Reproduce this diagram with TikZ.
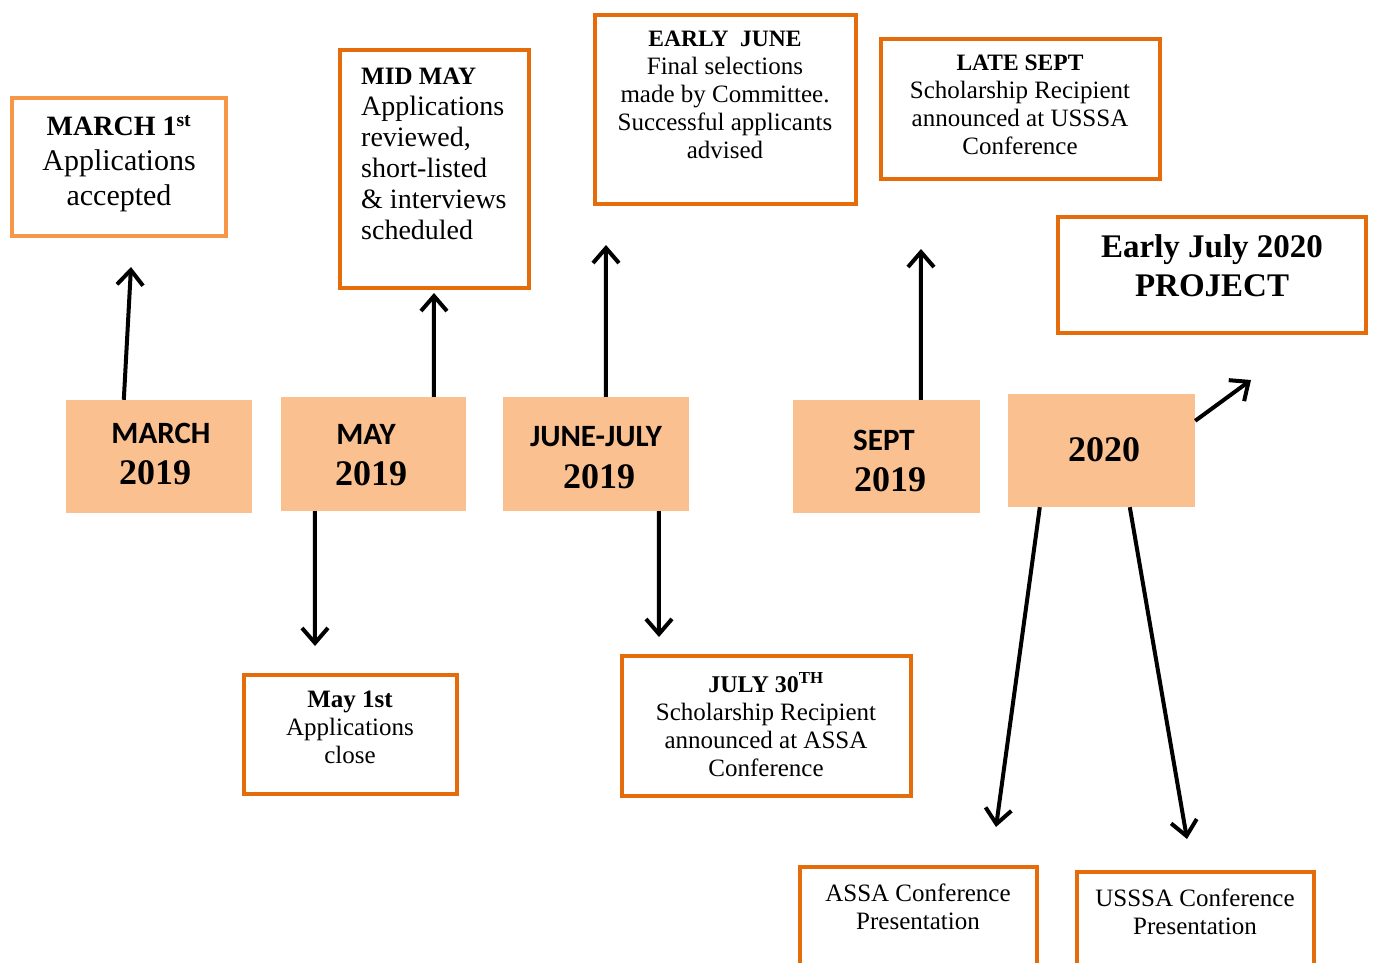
\documentclass[tikz,border=0pt]{standalone}
\usepackage{fontspec}
\setmainfont{Liberation Serif}
\newfontfamily\calib{Carlito}
\usetikzlibrary{arrows.meta,calc}
\definecolor{boxor}{HTML}{E46C0A}
\definecolor{boxlt}{HTML}{F79646}
\definecolor{perfill}{HTML}{FAC090}
\newcommand\fsz[2]{\fontsize{#1}{#2}\selectfont}
\begin{document}
\begin{tikzpicture}[x=1pt,y=-1pt,
  box/.style={draw=boxor,line width=4.5pt,fill=white,inner sep=0pt},
  per/.style={fill=perfill,inner sep=0pt},
  txt/.style={inner sep=0pt,align=center,anchor=north},
  plab/.style={inner sep=0pt,font=\calib\bfseries\fsz{31}{31}},
  pnum/.style={inner sep=0pt,font=\bfseries\fsz{36}{36}},
  arr/.style={line width=4pt,-{Straight Barb[length=15pt,width=26pt]}}
]
\clip (0,0) rectangle (1375,963);
\fill[white] (0,0) rectangle (1375,963);

% upper / lower boxes
\node[box,draw=boxlt,minimum width=214pt,minimum height=138pt] (m1) at (119,167) {};
\node[box,minimum width=189pt,minimum height=238pt] (midmay) at (434.5,169) {};
\node[box,minimum width=261pt,minimum height=189pt] (ejune) at (725.5,109.5) {};
\node[box,minimum width=279pt,minimum height=140pt] (lsept) at (1020.5,109) {};
\node[box,minimum width=308pt,minimum height=116pt] (proj) at (1212,275) {};
\node[box,minimum width=213pt,minimum height=119pt] (may1) at (350.5,734.5) {};
\node[box,minimum width=289pt,minimum height=140pt] (j30) at (766.5,726) {};
\node[box,minimum width=237pt,minimum height=121pt] (assa) at (918.5,927.5) {};
\node[box,minimum width=237pt,minimum height=121pt] (usssa) at (1195.5,932.5) {};

% texts of boxes
\node[txt,font=\fsz{30}{35}] (m1t) at (119,115)
  {{\bfseries\fsz{28}{35}MARCH 1\textsuperscript{st}}\\Applications\\accepted};
\node[txt,anchor=north west,align=left,font=\fsz{28}{31}] (midmayt) at (361,68)
  {{\bfseries\fsz{25}{31}MID MAY}\\Applications\\reviewed,\\short-listed\\\&~interviews\\scheduled};
\node[txt,font=\fsz{25}{28}] (ejunet) at (725,31)
  {{\bfseries\fsz{23.5}{28}EARLY~~JUNE}\\Final selections\\made by Committee.\\Successful applicants\\advised};
\node[txt,font=\fsz{25}{28}] (lseptt) at (1020,55)
  {{\bfseries\fsz{23.5}{28}LATE SEPT}\\Scholarship Recipient\\announced at USSSA\\Conference};
\node[txt,font=\bfseries\fsz{33}{39}] (projt) at (1212,234)
  {Early July 2020\\PROJECT};
\node[txt,font=\fsz{25}{28}] (may1t) at (350,691)
  {{\bfseries\fsz{25}{28}May 1st}\\Applications\\close};
\node[txt,font=\fsz{25}{28}] (j30t) at (766,672)
  {{\bfseries\fsz{24}{28}JULY 30\textsuperscript{TH}}\\Scholarship Recipient\\announced at ASSA\\Conference};
\node[txt,font=\fsz{25}{28}] (assat) at (918,884)
  {ASSA Conference\\Presentation};
\node[txt,font=\fsz{25}{28}] (usssat) at (1195,889)
  {USSSA Conference\\Presentation};

% period boxes
\node[per,minimum width=186pt,minimum height=113pt] (pmar) at (159,456.5) {};
\node[per,minimum width=185pt,minimum height=114pt] (pmay) at (373.5,454) {};
\node[per,minimum width=186pt,minimum height=114pt] (pjun) at (596,454) {};
\node[per,minimum width=187pt,minimum height=113pt] (psep) at (886.5,456.5) {};
\node[per,minimum width=187pt,minimum height=113pt] (p20) at (1101.5,450.5) {};

\node[plab] (pmarl) at (161,433) {MARCH};
\node[pnum] (pmarn) at (155,473) {2019};
\node[plab] (pmayl) at (366,434) {MAY};
\node[pnum] (pmayn) at (371,474) {2019};
\node[plab] (pjunl) at (596,437) {JUNE-JULY};
\node[pnum] (pjunn) at (599,477) {2019};
\node[plab] (psepl) at (884,440) {SEPT};
\node[pnum] (psepn) at (890,480) {2019};
\node[pnum] (p20n) at (1104,450) {2020};

% arrow ends
\coordinate (e1) at (131,267);
\coordinate (e2) at (434,293);
\coordinate (e3) at (606,245);
\coordinate (e4) at (921,249);
\coordinate (e5) at (1251,380);
\coordinate (e6) at (315,646);
\coordinate (e7) at (659,637);
\coordinate (e8) at (996,827);
\coordinate (e9) at (1187,839);

\draw[arr] ($(pmar.north west)+(58,0)$) -- (e1);
\draw[arr] ($(pmay.north west)+(153,0)$) -- (e2);
\draw[arr] ($(pjun.north west)+(103,0)$) -- (e3);
\draw[arr] ($(psep.north west)+(128,0)$) -- (e4);
\draw[arr] ($(p20.north east)+(0,27)$) -- (e5);
\draw[arr] ($(pmay.south west)+(34,0)$) -- (e6);
\draw[arr] ($(pjun.south west)+(156,0)$) -- (e7);
\draw[arr] ($(p20.south west)+(32,0)$) -- (e8);
\draw[arr] ($(p20.south west)+(122,0)$) -- (e9);
\end{tikzpicture}
\end{document}
